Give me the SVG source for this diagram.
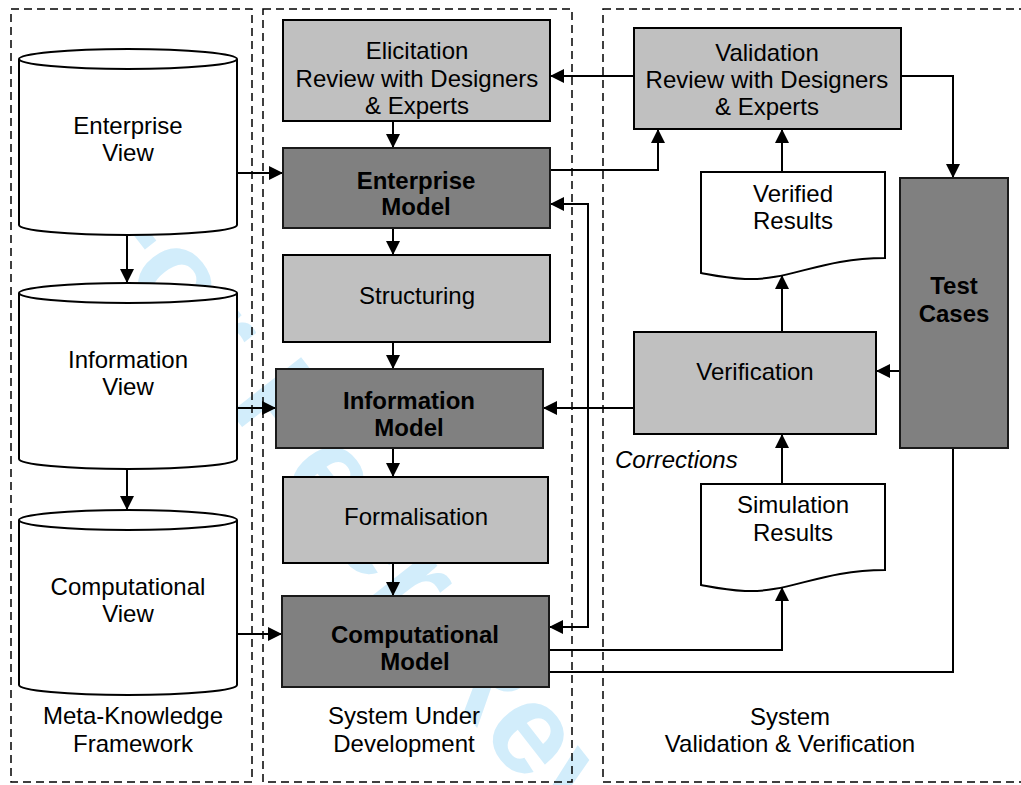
<svg xmlns="http://www.w3.org/2000/svg" width="1021" height="785" viewBox="0 0 1021 785">
<style>
text{font-family:"Liberation Sans",Arial,Helvetica,sans-serif;font-size:24px;text-anchor:middle;fill:#000}
.b{font-weight:bold}
.it{font-style:italic;text-anchor:start}
.dash{fill:none;stroke:#000;stroke-width:1.5;stroke-dasharray:8 5}
.light{fill:#c0c0c0;stroke:#000;stroke-width:2}
.dark{fill:#808080;stroke:#1a1a1a;stroke-width:2}
.white{fill:#fff;stroke:#000;stroke-width:2}
.conn path{fill:none;stroke:#000;stroke-width:2}
.wm{font-size:130px;font-weight:bold;fill:#d2edfb;text-anchor:start}
</style>
<defs>
<marker id="ah" markerWidth="14" markerHeight="14" refX="14" refY="7" orient="auto" markerUnits="userSpaceOnUse"><path d="M0,0 L14,7 L0,14 z" fill="#000"/></marker>
</defs>
<rect width="1021" height="785" fill="#fff"/>
<text class="wm" transform="translate(74,212) rotate(52)">For Peer Review</text>

<g id="containers">
<rect class="dash" x="11" y="9" width="241" height="773"/>
<rect class="dash" x="263" y="9" width="309" height="773"/>
<rect class="dash" x="603" y="9" width="430" height="773"/>
<text x="133" y="724">Meta-Knowledge</text>
<text x="133" y="752">Framework</text>
<text x="404" y="724">System Under</text>
<text x="404" y="752">Development</text>
<text x="790" y="725">System</text>
<text x="790" y="752">Validation &amp; Verification</text>
</g>

<g class="conn">
<path d="M237,173 H283" marker-end="url(#ah)"/>
<path d="M237,408 H276" marker-end="url(#ah)"/>
<path d="M237,634 H282" marker-end="url(#ah)"/>
<path d="M127,234 V283" marker-end="url(#ah)"/>
<path d="M127,469 V510" marker-end="url(#ah)"/>
<path d="M393,121 V148" marker-end="url(#ah)"/>
<path d="M393,228 V255" marker-end="url(#ah)"/>
<path d="M393,342 V369" marker-end="url(#ah)"/>
<path d="M393,448 V477" marker-end="url(#ah)"/>
<path d="M393,563 V596" marker-end="url(#ah)"/>
<path d="M634,76 H550" marker-end="url(#ah)"/>
<path d="M550,170 H658 V129" marker-end="url(#ah)"/>
<path d="M901,76 H953 V178" marker-end="url(#ah)"/>
<path d="M782,172 V129" marker-end="url(#ah)"/>
<path d="M782,332 V275" marker-end="url(#ah)"/>
<path d="M900,371 H876" marker-end="url(#ah)"/>
<path d="M634,408 H543" marker-end="url(#ah)"/>
<path d="M588,408 V204 H550" marker-end="url(#ah)"/>
<path d="M588,408 V627 H549" marker-end="url(#ah)"/>
<path d="M782,484 V434" marker-end="url(#ah)"/>
<path d="M549,650 H782 V587" marker-end="url(#ah)"/>
<path d="M953,448 V672 H549"/>
</g>
<text class="it" x="615" y="468">Corrections</text>

<g id="enterprise-view">
<path class="white" d="M19,59 V225 A109,10 0 0 0 237,225 V59"/>
<ellipse class="white" cx="128" cy="59" rx="109" ry="10"/>
<text x="128" y="134">Enterprise</text>
<text x="128" y="161">View</text>
</g>
<g id="information-view">
<path class="white" d="M19,293 V459 A109,10 0 0 0 237,459 V293"/>
<ellipse class="white" cx="128" cy="293" rx="109" ry="10"/>
<text x="128" y="368">Information</text>
<text x="128" y="395">View</text>
</g>
<g id="computational-view">
<path class="white" d="M19,520 V685 A109,10 0 0 0 237,685 V520"/>
<ellipse class="white" cx="128" cy="520" rx="109" ry="10"/>
<text x="128" y="595">Computational</text>
<text x="128" y="622">View</text>
</g>

<g id="elicitation">
<rect class="light" x="283" y="20" width="267" height="101"/>
<text x="417" y="59">Elicitation</text>
<text x="417" y="87">Review with Designers</text>
<text x="417" y="114">&amp; Experts</text>
</g>
<g id="enterprise-model">
<rect class="dark" x="283" y="148" width="267" height="80"/>
<text class="b" x="416" y="189">Enterprise</text>
<text class="b" x="416" y="215">Model</text>
</g>
<g id="structuring">
<rect class="light" x="283" y="255" width="267" height="87"/>
<text x="417" y="304">Structuring</text>
</g>
<g id="information-model">
<rect class="dark" x="276" y="369" width="267" height="79"/>
<text class="b" x="409" y="409">Information</text>
<text class="b" x="409" y="436">Model</text>
</g>
<g id="formalisation">
<rect class="light" x="283" y="477" width="265" height="86"/>
<text x="416" y="525">Formalisation</text>
</g>
<g id="computational-model">
<rect class="dark" x="282" y="596" width="267" height="91"/>
<text class="b" x="415" y="643">Computational</text>
<text class="b" x="415" y="670">Model</text>
</g>

<g id="validation">
<rect class="light" x="634" y="28" width="267" height="101"/>
<text x="767" y="61">Validation</text>
<text x="767" y="88">Review with Designers</text>
<text x="767" y="115">&amp; Experts</text>
</g>
<g id="verified-results">
<path class="white" d="M701,172 H885 V258 C820,258 790,281 745,279 C725,278 712,275 701,273 Z"/>
<text x="793" y="202">Verified</text>
<text x="793" y="229">Results</text>
</g>
<g id="test-cases">
<rect class="dark" x="900" y="178" width="108" height="270"/>
<text class="b" x="954" y="294">Test</text>
<text class="b" x="954" y="322">Cases</text>
</g>
<g id="verification">
<rect class="light" x="634" y="332" width="242" height="102"/>
<text x="755" y="380">Verification</text>
</g>
<g id="simulation-results">
<path class="white" d="M701,484 H885 V570 C820,570 790,593 745,591 C725,590 712,587 701,585 Z"/>
<text x="793" y="513">Simulation</text>
<text x="793" y="541">Results</text>
</g>
</svg>
